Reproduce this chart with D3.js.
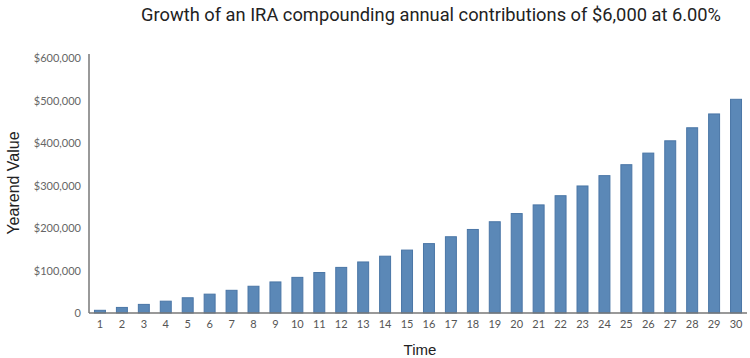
<!DOCTYPE html>
<html><head><meta charset="utf-8">
<script src="https://cdn.jsdelivr.net/npm/d3@7"></script>
<style>body{margin:0;background:#fff}svg{display:block}</style>
</head><body>
<svg id="chart" width="750" height="358"></svg>
<script>
const years = d3.range(1, 31).map(String);
const values = [6360, 13100, 20250, 27820, 35850, 44360, 53390, 62950, 73090, 83830,
  95220, 107290, 120090, 133660, 148040, 163280, 179430, 196560, 214710, 233960,
  254350, 275980, 298890, 323190, 348940, 376230, 405170, 435840, 468350, 502810];
const yTicks = [0, 100000, 200000, 300000, 400000, 500000, 600000];
const title = "Growth of an IRA compounding annual contributions of $6,000 at 6.00%";

const svg = d3.select("#chart");
const x = d3.scaleBand().domain(years).range([89, 747]).paddingInner(0.5).paddingOuter(0.25);
const y = d3.scaleLinear().domain([0, 600000]).range([313, 58]);

svg.append("text").attr("x", 431).attr("y", 21).attr("text-anchor", "middle")
  .attr("font-family", "'Liberation Sans Narrow', 'Roboto', sans-serif").attr("font-size", 18)
  .attr("fill", "#222").attr("textLength", 580).attr("lengthAdjust", "spacingAndGlyphs").text(title);

svg.selectAll("rect.bar").data(values).join("rect").attr("class", "bar")
  .attr("x", (d, i) => x(years[i])).attr("width", x.bandwidth())
  .attr("y", d => y(d)).attr("height", d => y(0) - y(d))
  .attr("fill", "#5b88b7").attr("stroke", "#4a76a6").attr("stroke-width", 1);

const yAxis = svg.append("g").attr("transform", "translate(89,0)")
  .call(d3.axisLeft(y).tickValues(yTicks).tickSize(0).tickPadding(8)
    .tickFormat(d => d === 0 ? "0" : "$" + d3.format(",")(d)));
yAxis.select(".domain").attr("d", "M0,54V313").attr("stroke", "#777").attr("stroke-width", 1.5);
yAxis.selectAll("text").attr("font-family", "Lato, 'Open Sans', sans-serif").attr("font-size", 11).attr("fill", "#666");

const xAxis = svg.append("g").attr("transform", "translate(0,313)")
  .call(d3.axisBottom(x).tickSize(0).tickPadding(7));
xAxis.select(".domain").attr("d", "M89,0H747").attr("stroke", "#777").attr("stroke-width", 1.5);
xAxis.selectAll("text").attr("font-family", "Lato, 'Open Sans', sans-serif").attr("font-size", 11).attr("fill", "#555");

svg.append("text").attr("transform", "translate(19,183) rotate(-90)").attr("text-anchor", "middle")
  .attr("font-family", "'Liberation Sans', Arial, sans-serif").attr("font-size", 16).attr("fill", "#222").text("Yearend Value");
svg.append("text").attr("x", 420).attr("y", 355).attr("text-anchor", "middle")
  .attr("font-family", "'Liberation Sans', Arial, sans-serif").attr("font-size", 15).attr("fill", "#222").text("Time");
</script>
</body></html>
